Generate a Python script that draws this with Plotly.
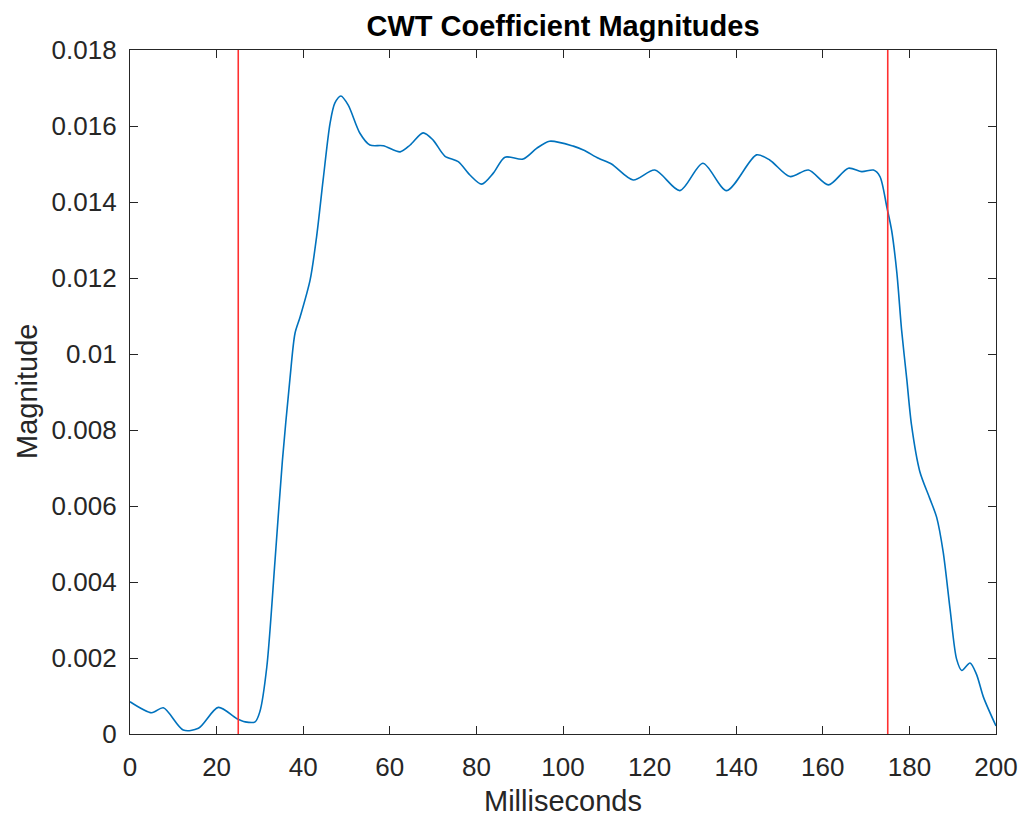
import plotly.graph_objects as go

# CWT coefficient magnitude curve (milliseconds, magnitude)
time_ms = [0, 5.0, 7.7, 12.3, 15.8, 20.4, 24.6, 26.6, 28.9, 30.0, 31.6, 33.5, 35.2,
           36.95, 38.1, 39.3, 41.6, 43.1, 44.6, 46.2, 47.3, 48.7, 50.4, 53.1, 55.4,
           58.5, 62.4, 64.7, 67.7, 70.0, 72.7, 75.8, 78.5, 81.2, 83.9, 86.6, 90.8,
           93.9, 96.9, 102.4, 104.7, 108.2, 111.2, 116.2, 121.2, 127.0, 132.3, 137.8,
           144.7, 147.8, 152.4, 156.7, 161.3, 165.9, 169.0, 171.7, 173.2, 174.8,
           175.9, 177.1, 178.2, 179.4, 180.5, 182.4, 184.7, 186.3, 187.8, 189.4,
           190.9, 192.1, 194.0, 195.5, 197.1, 200.0]
magnitude = [0.00085, 0.00056, 0.00069, 0.000105, 0.00015, 0.00070, 0.00041, 0.00032,
             0.00032, 0.00059, 0.00177, 0.00458, 0.0072,
             0.00936, 0.01054, 0.01098, 0.01195, 0.01309, 0.01458, 0.01607, 0.0166,
             0.01679, 0.01655, 0.01581, 0.0155, 0.01548, 0.01532, 0.0155, 0.01582,
             0.01563, 0.01521, 0.01506, 0.01471, 0.01447, 0.01476, 0.01518, 0.01513,
             0.01541, 0.0156, 0.01547, 0.01537, 0.01515, 0.0150, 0.01458, 0.01484,
             0.0143, 0.01502, 0.0143, 0.01524, 0.0151, 0.01467, 0.01484, 0.01445,
             0.01489, 0.0148, 0.01484, 0.01467, 0.01386, 0.01325, 0.01214, 0.01063,
             0.00933, 0.00812, 0.00691, 0.0062, 0.0057, 0.00479, 0.00328, 0.00197,
             0.00167, 0.00187, 0.00157, 0.00097, 0.00021]

# Vertical marker lines
marker_times = [25, 175]
marker_span = [0, 0.018]

x_ticks = [0, 20, 40, 60, 80, 100, 120, 140, 160, 180, 200]
y_ticks = [0, 0.002, 0.004, 0.006, 0.008, 0.01, 0.012, 0.014, 0.016, 0.018]
y_tick_labels = ["0", "0.002", "0.004", "0.006", "0.008", "0.01", "0.012",
                 "0.014", "0.016", "0.018"]

FONT = "Liberation Sans, Arial, Helvetica, sans-serif"
AX = "#262626"

W, H = 1019, 817

fig = go.Figure()
fig.add_trace(go.Scatter(x=time_ms, y=magnitude, mode="lines",
                         line=dict(color="#0072BD", width=1.6, shape="spline", smoothing=0.8),
                         showlegend=False, hoverinfo="x+y"))
for t in marker_times:
    fig.add_trace(go.Scatter(x=[t, t], y=marker_span, mode="lines",
                             line=dict(color="#FF3030", width=1.6),
                             showlegend=False))

fig.update_layout(
    width=W, height=H,
    margin=dict(l=130, r=23, t=50, b=83, pad=0, autoexpand=False),
    paper_bgcolor="white", plot_bgcolor="white",
    font=dict(family=FONT, size=26, color=AX),
    title=dict(text="<b>CWT Coefficient Magnitudes</b>", x=563 / W, xref="container",
               xanchor="center", y=1 - 26 / H, yref="container", yanchor="middle",
               font=dict(family=FONT, size=29, color="black")),
    xaxis=dict(range=[0, 200], tickvals=x_ticks, ticktext=[str(v) for v in x_ticks],
               automargin=False,
               showgrid=False, zeroline=False, showline=True, linecolor=AX, linewidth=1.2,
               mirror="ticks", ticks="inside", ticklen=8, tickwidth=1.2, tickcolor=AX,
               tickfont=dict(family=FONT, size=26, color=AX), ticklabelstandoff=10),
    yaxis=dict(range=[0, 0.018], tickvals=y_ticks, ticktext=y_tick_labels,
               automargin=False,
               showgrid=False, zeroline=False, showline=True, linecolor=AX, linewidth=1.2,
               mirror="ticks", ticks="inside", ticklen=8, tickwidth=1.2, tickcolor=AX,
               tickfont=dict(family=FONT, size=26, color=AX), ticklabelstandoff=7),
    annotations=[
        dict(text="Milliseconds", xref="paper", yref="paper", x=0.5, y=(734 - 801) / 684,
             xanchor="center", yanchor="middle", showarrow=False,
             font=dict(family=FONT, size=29, color=AX)),
        dict(text="Magnitude", xref="paper", yref="paper", x=(27 - 130) / 866, y=0.5,
             xanchor="center", yanchor="middle", showarrow=False, textangle=-90,
             font=dict(family=FONT, size=29, color=AX)),
    ],
)

fig.write_html(
    "out.html",
    config={"displayModeBar": False},
    post_script="document.body.style.margin='0';document.body.style.overflow='hidden';",
)
